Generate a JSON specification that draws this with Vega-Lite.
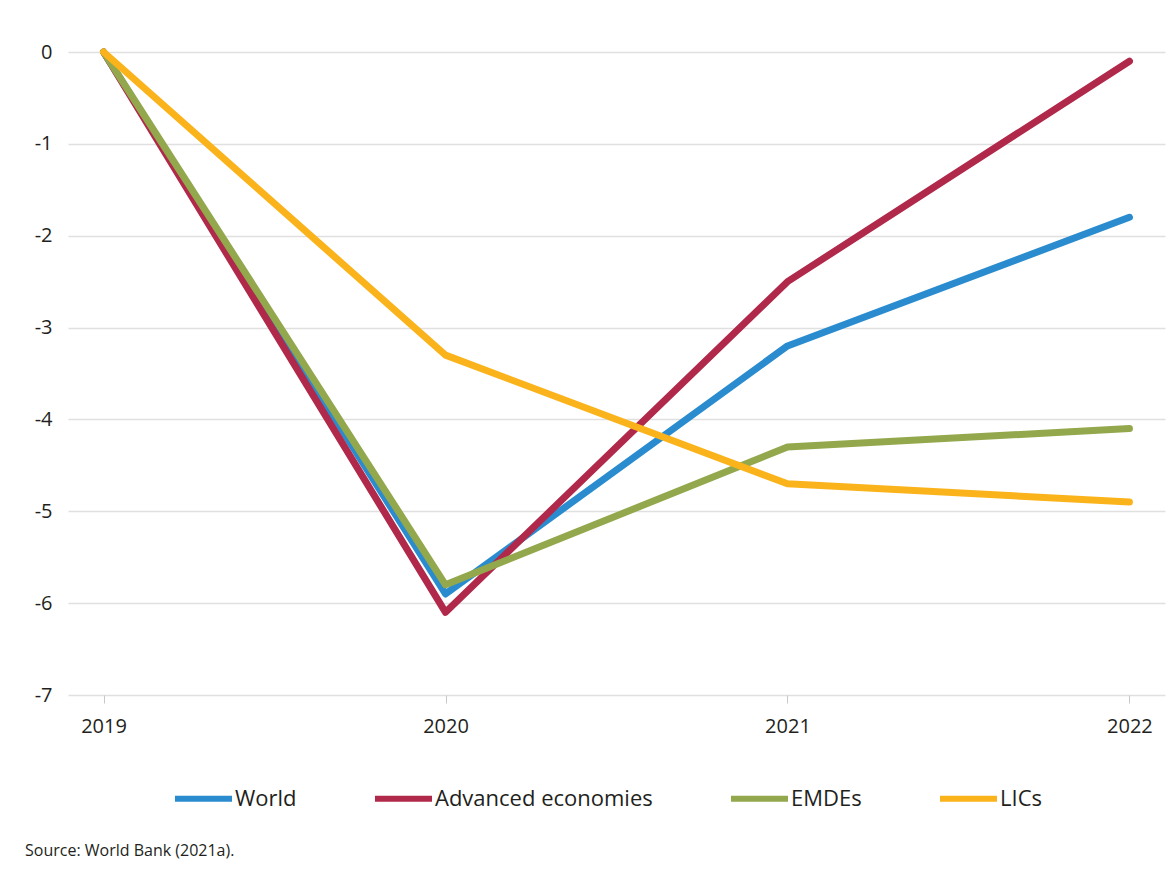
{
  "$schema": "https://vega.github.io/schema/vega-lite/v6.json",
  "width": 1097,
  "height": 643,
  "autosize": {"type": "none"},
  "padding": {"left": 68, "top": 52, "right": 8, "bottom": 177},
  "background": "white",
  "config": {
    "font": "Open Sans",
    "view": {"stroke": null}
  },
  "title": {
    "text": "Source: World Bank (2021a).",
    "orient": "bottom",
    "anchor": "start",
    "frame": "group",
    "dx": -43,
    "offset": 32,
    "fontSize": 16,
    "fontWeight": "normal",
    "color": "#231f20",
    "font": "Open Sans"
  },
  "data": {
    "values": [
      {"year": "2019", "series": "World", "value": 0},
      {"year": "2020", "series": "World", "value": -5.9},
      {"year": "2021", "series": "World", "value": -3.2},
      {"year": "2022", "series": "World", "value": -1.8},
      {"year": "2019", "series": "Advanced economies", "value": 0},
      {"year": "2020", "series": "Advanced economies", "value": -6.1},
      {"year": "2021", "series": "Advanced economies", "value": -2.5},
      {"year": "2022", "series": "Advanced economies", "value": -0.1},
      {"year": "2019", "series": "EMDEs", "value": 0},
      {"year": "2020", "series": "EMDEs", "value": -5.8},
      {"year": "2021", "series": "EMDEs", "value": -4.3},
      {"year": "2022", "series": "EMDEs", "value": -4.1},
      {"year": "2019", "series": "LICs", "value": 0},
      {"year": "2020", "series": "LICs", "value": -3.3},
      {"year": "2021", "series": "LICs", "value": -4.7},
      {"year": "2022", "series": "LICs", "value": -4.9}
    ]
  },
  "mark": {"type": "line", "strokeWidth": 7, "strokeCap": "round", "strokeJoin": "round"},
  "encoding": {
    "x": {
      "field": "year",
      "type": "ordinal",
      "scale": {"type": "point", "padding": 0.104},
      "axis": {
        "title": null,
        "labelAngle": 0,
        "grid": false,
        "domain": false,
        "tickColor": "#c8c8c8",
        "tickSize": 8,
        "labelPadding": 13,
        "labelFontSize": 20,
        "labelFont": "Open Sans",
        "labelColor": "#231f20"
      }
    },
    "y": {
      "field": "value",
      "type": "quantitative",
      "scale": {"domain": [-7, 0], "nice": false, "zero": false},
      "axis": {
        "title": null,
        "values": [0, -1, -2, -3, -4, -5, -6, -7],
        "labelExpr": "'' + datum.value",
        "domain": false,
        "ticks": false,
        "labelPadding": 16,
        "gridColor": "#e0e0e0",
        "gridWidth": 1.5,
        "labelFontSize": 20,
        "labelFont": "Open Sans",
        "labelColor": "#231f20"
      }
    },
    "color": {
      "field": "series",
      "type": "nominal",
      "sort": ["World", "Advanced economies", "EMDEs", "LICs"],
      "scale": {
        "domain": ["World", "Advanced economies", "EMDEs", "LICs"],
        "range": ["#2a8ccf", "#b0284a", "#93a84c", "#fbb31b"]
      },
      "legend": {
        "title": null,
        "orient": "none",
        "direction": "horizontal",
        "legendX": 104,
        "legendY": 715,
        "symbolType": "stroke",
        "symbolSize": 3249,
        "symbolStrokeWidth": 6,
        "labelFontSize": 22,
        "labelColor": "#231f20",
        "labelFont": "Open Sans",
        "labelOffset": 0,
        "columnPadding": 66,
        "padding": 0,
        "labelLimit": 400
      }
    }
  }
}
